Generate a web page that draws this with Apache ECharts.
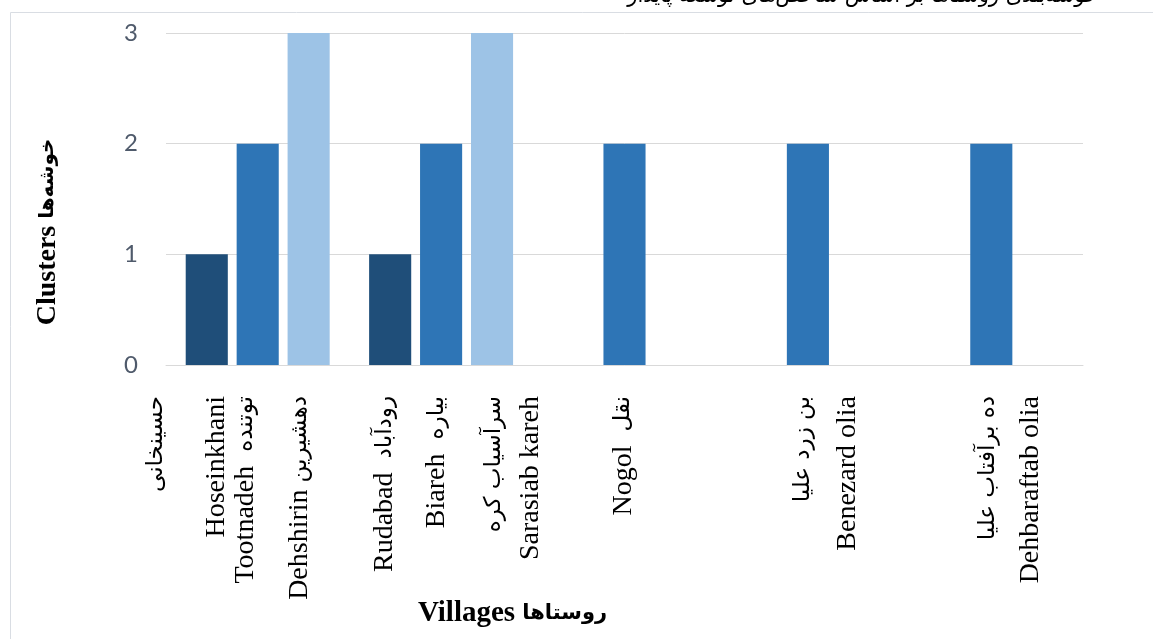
<!DOCTYPE html>
<html>
<head>
<meta charset="utf-8">
<script src="https://cdn.jsdelivr.net/npm/echarts@6/dist/echarts.min.js"></script>
<style>
  html, body { margin: 0; padding: 0; background: #fff; }
  #main { width: 1153px; height: 639px; }
</style>
</head>
<body>
<div id="main"></div>
<script>
// داده‌های نمودار
var categories = [
    'حسینخانی\nHoseinkhani\nTootnadeh  توتنده\nDehshirin دهشیرین',
    'Rudabad  رودآباد\nBiareh  بیاره\nسرآسیاب کره\nSarasiab kareh',
    'Nogol  نقل',
    'بن زرد علیا\nBenezard olia',
    'ده برآفتاب علیا\nDehbaraftab olia'
];
var yTicks = [0, 1, 2, 3];
var series1 = [1, 1, null, null, null];
var series2 = [2, 2, 2, 2, 2];
var series3 = [3, 3, null, null, null];

// جای هر سطر برچسب نسبت به مرکز دسته (پیکسل)
var lineOffsets = [[-102, -41, -12, 42], [-56, -4, 53, 90], [-1], [-5, 40], [-3, 39]];
var LINE_H = 29;

var serif = '"Liberation Serif", "Times New Roman", serif';
var persianFont = '"DejaVu Sans", sans-serif';

var rich = {
    e: { fontFamily: serif, fontSize: 28, lineHeight: LINE_H, color: '#000' },
    p: { fontFamily: persianFont, fontSize: 23, lineHeight: LINE_H, color: '#000' }
};

function spacer(h) {
    h = Math.round(h);
    var k = 'g' + h;
    rich[k] = { fontSize: 1, lineHeight: h };
    return '{' + k + '| }';
}

function tokens(line) {
    var out = '', run = '', type = null;
    for (var i = 0; i < line.length; i++) {
        var ch = line[i];
        var t = /[\u0600-\u06FF\u200c]/.test(ch) ? 'p' : (ch === ' ' ? type : 'e');
        if (t !== type && run && type) { out += '{' + type + '|' + run + '}'; run = ''; }
        type = t || 'e';
        run += ch;
    }
    if (run) out += '{' + type + '|' + run + '}';
    return out;
}

var labelTexts = categories.map(function (c, i) {
    var lines = c.split('\n');
    var offs = lineOffsets[i];
    var parts = [], H = 0;
    lines.forEach(function (ln, j) {
        parts.push(tokens(ln));
        H += LINE_H;
        if (j < lines.length - 1) {
            var g = offs[j + 1] - offs[j] - LINE_H;
            if (g > 0) { parts.push(spacer(g)); H += g; }
        }
    });
    var d = offs[0] + H / 2 - LINE_H / 2;
    if (d > 0) parts.unshift(spacer(2 * d));
    else if (d < 0) parts.push(spacer(-2 * d));
    return parts.join('\n');
});

var myChart = echarts.init(document.getElementById('main'));

var option = {
    animation: false,
    title: {
        text: 'خوشه‌بندی روستاها بر اساس شاخص‌های توسعه پایدار',
        right: 50,
        top: -19,
        textStyle: { fontFamily: persianFont, fontSize: 21, fontWeight: 'normal', color: '#000' }
    },
    graphic: [{
        type: 'rect',
        shape: { x: 10.5, y: 12.5, width: 1200, height: 700 },
        style: { fill: null, stroke: '#d9dde3', lineWidth: 1 },
        silent: true
    }],
    grid: { left: 166, right: 70, top: 33, bottom: 274, containLabel: false, outerBoundsMode: 'none' },
    xAxis: {
        type: 'category',
        data: categories,
        name: '{e|Villages }{p|روستاها}',
        nameLocation: 'middle',
        nameGap: 234,
        nameMoveOverlap: false,
        nameTextStyle: {
            padding: [0, 224, 0, 0],
            rich: {
                e: { fontFamily: serif, fontSize: 29, fontWeight: 'bold', color: '#000' },
                p: { fontFamily: persianFont, fontSize: 21, fontWeight: 'bold', color: '#000' }
            }
        },
        axisTick: { show: false },
        axisLine: { lineStyle: { color: '#d9d9d9', width: 1 } },
        axisLabel: {
            interval: 0,
            rotate: 90,
            margin: 31,
            formatter: function (v, idx) { return labelTexts[idx]; },
            rich: rich
        }
    },
    yAxis: {
        type: 'value',
        min: yTicks[0],
        max: yTicks[yTicks.length - 1],
        interval: 1,
        name: '{e|Clusters }{p|خوشه‌ها}',
        nameLocation: 'middle',
        nameGap: 104,
        nameMoveOverlap: false,
        nameTextStyle: {
            padding: [0, 66, 0, 0],
            rich: {
                e: { fontFamily: serif, fontSize: 28, fontWeight: 'bold', color: '#000' },
                p: { fontFamily: persianFont, fontSize: 20, fontWeight: 'bold', color: '#000' }
            }
        },
        axisLine: { show: false },
        axisTick: { show: false },
        axisLabel: { margin: 28, fontFamily: 'Lato, "Open Sans", sans-serif', fontSize: 24, color: '#4f5a6b' },
        splitLine: { lineStyle: { color: '#d9d9d9', width: 1 } }
    },
    series: [
        { name: '1', type: 'bar', data: series1, barGap: '21%', barCategoryGap: '21.5%', itemStyle: { color: '#1f4e79' } },
        { name: '2', type: 'bar', data: series2, itemStyle: { color: '#2e75b6' } },
        { name: '3', type: 'bar', data: series3, itemStyle: { color: '#9dc3e6' } }
    ]
};

myChart.setOption(option);
</script>
</body>
</html>
